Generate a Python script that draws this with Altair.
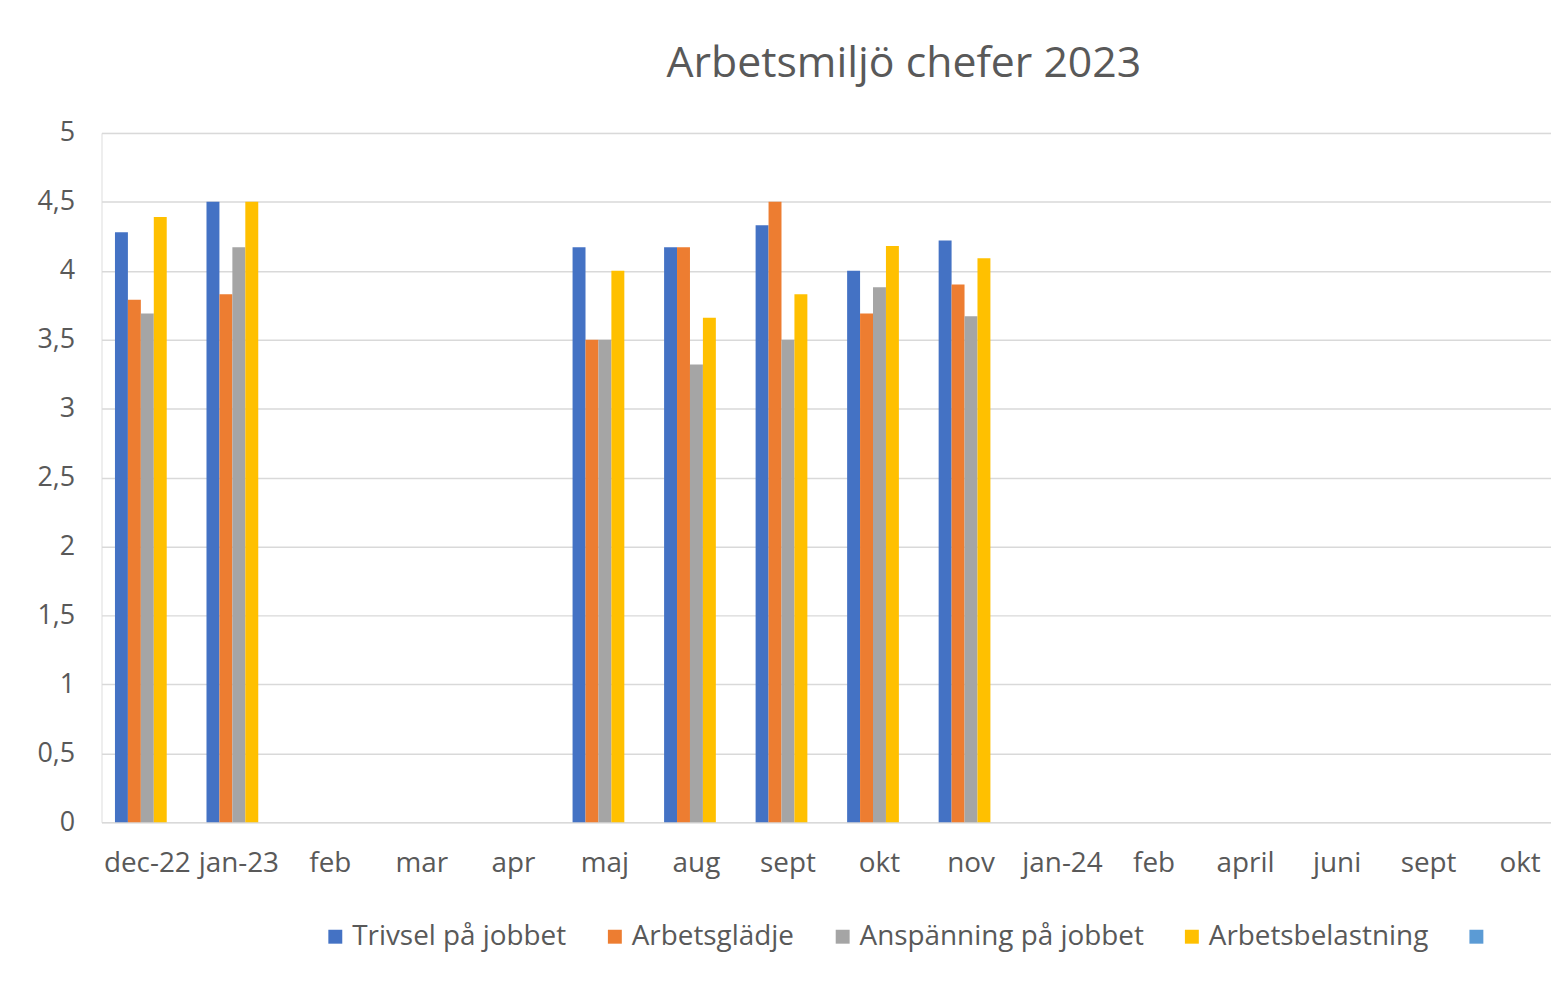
import altair as alt
import pandas as pd
import json

months = ["dec-22", "jan-23", "feb", "mar", "apr", "maj", "aug", "sept", "okt",
          "nov", "jan-24", "feb", "april", "juni", "sept", "okt"]
series = ["Trivsel på jobbet", "Arbetsglädje", "Anspänning på jobbet", "Arbetsbelastning"]
extra_series = " "
colors = ["#4472C4", "#ED7D31", "#A5A5A5", "#FFC000", "#5B9BD5"]

# values per month index (None = no data)
trivsel = [4.28, 4.5, None, None, None, 4.17, 4.17, 4.33, 4.0, 4.22, None, None, None, None, None, None]
gladje = [3.79, 3.83, None, None, None, 3.5, 4.17, 4.5, 3.69, 3.9, None, None, None, None, None, None]
anspanning = [3.69, 4.17, None, None, None, 3.5, 3.32, 3.5, 3.88, 3.67, None, None, None, None, None, None]
belastning = [4.39, 4.5, None, None, None, 4.0, 3.66, 3.83, 4.18, 4.09, None, None, None, None, None, None]

keys = [f"{i:02d}" for i in range(len(months))]
rows = []
for s, vals in zip(series, [trivsel, gladje, anspanning, belastning]):
    for k, v in zip(keys, vals):
        if v is not None:
            rows.append({"key": k, "serie": s, "value": v})
df = pd.DataFrame(rows)

FONT = "Open Sans"
TXT = "#595959"
label_expr = json.dumps(months) + "[toNumber(datum.value)]"
all_series = series + [extra_series]

chart = alt.Chart(df).mark_bar().encode(
    x=alt.X("key:N", scale=alt.Scale(domain=keys, range=[0, 1472],
                                     paddingInner=0.293, paddingOuter=0.147),
            axis=alt.Axis(title=None, labelExpr=label_expr, labelAngle=0, ticks=False,
                          domain=False, labelPadding=27, labelFontSize=28, labelColor=TXT,
                          labelFont=FONT)),
    xOffset=alt.XOffset("serie:N", scale=alt.Scale(domain=all_series, paddingInner=0.0)),
    y=alt.Y("value:Q", scale=alt.Scale(domain=[0, 5]),
            axis=alt.Axis(title=None, values=[0, 0.5, 1, 1.5, 2, 2.5, 3, 3.5, 4, 4.5, 5],
                          format="~g",
                          labelExpr="replace(datum.label, '.', ',')", ticks=False,
                          domain=False, labelPadding=27, labelFontSize=27, labelColor=TXT,
                          labelFont=FONT, gridColor="#D9D9D9", gridWidth=1.5)),
    color=alt.Color("serie:N",
                    scale=alt.Scale(domain=all_series, range=colors),
                    legend=alt.Legend(title=None, orient="none", direction="horizontal",
                                      legendX=221, legendY=794, columns=5,
                                      symbolType="square", symbolSize=196,
                                      symbolStrokeWidth=0, labelFontSize=28,
                                      labelColor=TXT, labelFont=FONT, labelLimit=400,
                                      labelOffset=3, columnPadding=34, padding=0)),
).properties(
    width=1457,
    height=693,
    autosize=alt.AutoSizeParams(type="none"),
    padding={"left": 94, "top": 123, "right": 0, "bottom": 160},
    title=alt.TitleParams("Arbetsmiljö chefer 2023", fontSize=43, font=FONT,
                          color=TXT, fontWeight="normal", offset=33, dx=78),
).configure_view(stroke=None).configure(background="white")

chart.save("out.html", embed_options={"renderer": "svg", "actions": False})
